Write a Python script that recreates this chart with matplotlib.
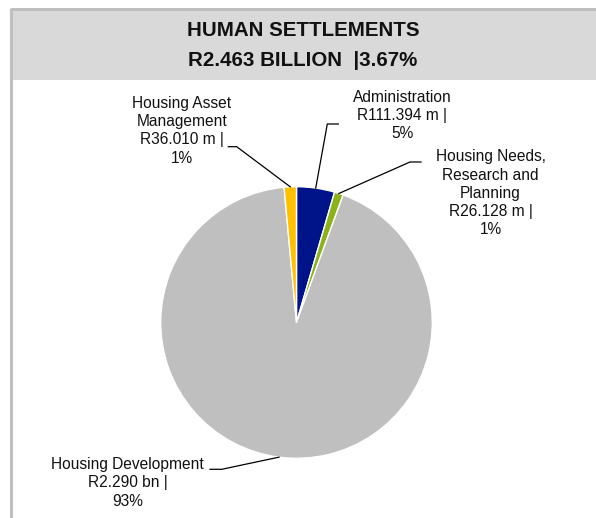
import matplotlib
matplotlib.use("Agg")
import matplotlib.pyplot as plt
from matplotlib.patches import Rectangle
from matplotlib.lines import Line2D
import numpy as np

# Budget split of the Human Settlements vote (R million)
programmes = ["Administration", "Housing Needs, Research and Planning",
              "Housing Development", "Housing Asset Management"]
amounts = [111.394, 26.128, 2290.0, 36.010]
amount_labels = ["R111.394 m |", "R26.128 m |", "R2.290 bn |", "R36.010 m |"]
share_labels = ["5%", "1%", "93%", "1%"]
label_text = ["Administration", "Housing Needs,\nResearch and\nPlanning",
              "Housing Development", "Housing Asset\nManagement"]
colors = ["#001489", "#8cb21a", "#bfbfbf", "#ffc000"]
title_lines = ["HUMAN SETTLEMENTS", "R2.463 BILLION  |3.67%"]

W, H = 596, 518
fig = plt.figure(figsize=(W / 100, H / 100), dpi=100)
fig.patch.set_facecolor("white")


def fx(x):
    return x / W


def fy(y):
    return 1 - y / H


# header band and frame
fig.patches.append(Rectangle((fx(12), fy(80)), fx(W) - fx(12), fy(10) - fy(80),
                             transform=fig.transFigure, facecolor="#d9d9d9",
                             edgecolor="none", zorder=0))
fig.lines.append(Line2D([fx(11), fx(W)], [fy(9), fy(9)], transform=fig.transFigure,
                        color="#bfbfbf", lw=2.2, solid_capstyle="butt"))
fig.lines.append(Line2D([fx(11), fx(11)], [fy(8), fy(H)], transform=fig.transFigure,
                        color="#bfbfbf", lw=2.2, solid_capstyle="butt"))

for txt, yy in zip(title_lines, [31, 60]):
    fig.text(fx(303), fy(yy), txt, ha="center", va="center",
             fontsize=14.8, fontweight="bold", family="Liberation Sans",
             color="#111111")

# pie
cx, cy, r = 296.5, 322.5, 135.8
ax = fig.add_axes([fx(cx - r), fy(cy + r), (2 * r) / W, (2 * r) / H])
wedges, _ = ax.pie(amounts, colors=colors, startangle=90, counterclock=False,
                   wedgeprops=dict(edgecolor="white", linewidth=1.0))
ax.set_xlim(-1, 1)
ax.set_ylim(-1, 1)
ax.set_aspect("auto")
ax.axis("off")

# label block centres and leader elbows (pixels)
label_pos = [(402, 115.5), (490.5, 193.3), (127.5, 482.8), (182, 130.8)]
elbows = [((327.3, 124), (338.3, 124)),
          ((410, 162), (421, 162)),
          ((221.7, 469.3), (210, 469.3)),
          ((236.7, 146.7), (228.3, 146.7))]

for w, name, amt, share, (lx, ly), (e1, e2) in zip(
        wedges, label_text, amount_labels, share_labels, label_pos, elbows):
    mid = np.deg2rad((w.theta1 + w.theta2) / 2)
    px = cx + r * np.cos(mid)
    py = cy - r * np.sin(mid)
    fig.lines.append(Line2D([fx(px), fx(e1[0]), fx(e2[0])],
                            [fy(py), fy(e1[1]), fy(e2[1])],
                            transform=fig.transFigure, color="black", lw=0.9))
    fig.text(fx(lx), fy(ly), f"{name}\n{amt}\n{share}", ha="center", va="center",
             multialignment="center", fontsize=11.2, family="Liberation Sans",
             color="#111111", linespacing=1.27)

fig.savefig("out.png", dpi=100)
